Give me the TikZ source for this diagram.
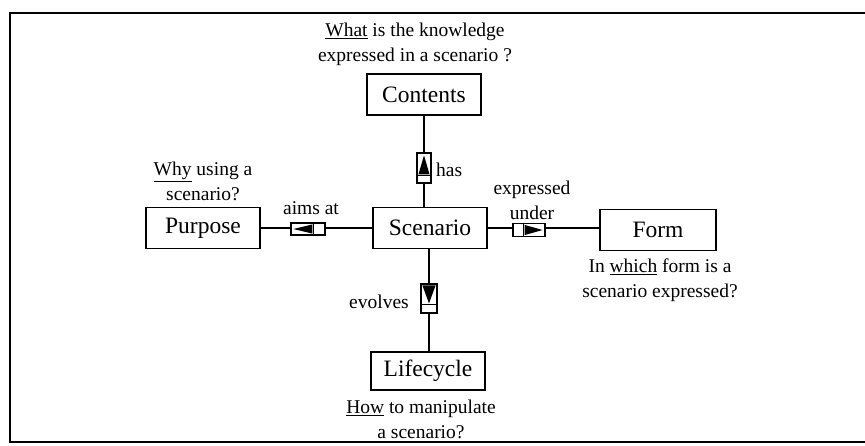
\documentclass[tikz,border=0pt]{standalone}
\usepackage{fontspec}
\setmainfont{Liberation Serif}
\usetikzlibrary{calc}
\begin{document}
\begin{tikzpicture}[x=1pt,y=-1pt,
  concept/.style={draw,line width=1.6pt,minimum width=114pt,minimum height=41pt,
    inner sep=0pt,font=\fontsize{23.5}{26}\selectfont},
  note/.style={align=center,inner sep=0pt,font=\fontsize{19.5}{25}\selectfont},
  link/.style={line width=1.6pt},
  marker/.style={draw,line width=1.2pt,fill=white,inner sep=0pt},
  wedge/.style={fill=black},
  divider/.style={line width=1pt}]
\useasboundingbox (0,0) rectangle (865,445);

% frame
\draw[line width=1.8pt] (865,13) -- (10,13) -- (10,442) -- (865,442);

% concept boxes
\node[concept] (contents) at (424,94.5) {Contents};
\node[concept] (purpose) at (203,228) {Purpose};
\node[concept] (scenario) at (430,228) {Scenario};
\node[concept,minimum width=116pt] (form) at (658,230) {Form};
\node[concept,minimum height=38pt] (lifecycle) at (428,371) {Lifecycle};

% links
\draw[link] (contents.south) -- (contents.south |- scenario.north);
\draw[link] (purpose.east) -- (scenario.west);
\draw[link] (scenario.east) -- (scenario.east -| form.west);
\draw[link] ([xshift=-1pt]scenario.south) -- ([xshift=-1pt]scenario.south |- lifecycle.north);

% direction markers
\node[marker,minimum width=14pt,minimum height=30pt] (mh) at (424,168) {};
\fill[wedge] ($(mh.north)+(0,3)$) -- ($(mh.north west)+(2,22)$) -- ($(mh.north east)+(-2,22)$) -- cycle;
\draw[divider] ($(mh.north west)+(0,23)$) -- ($(mh.north east)+(0,23)$);

\node[marker,minimum width=16pt,minimum height=29pt] (me) at (429,298.5) {};
\fill[wedge] ($(me.north west)+(2,2)$) -- ($(me.north east)+(-2,2)$) -- ($(me.north)+(0,20)$) -- cycle;
\draw[divider] ($(me.north west)+(0,21)$) -- ($(me.north east)+(0,21)$);

\node[marker,minimum width=34pt,minimum height=12pt] (ma) at (308,229) {};
\fill[wedge] ($(ma.west)+(3,0)$) -- ($(ma.north west)+(22,2)$) -- ($(ma.south west)+(22,-2)$) -- cycle;
\draw[divider] ($(ma.north west)+(23,0)$) -- ($(ma.south west)+(23,0)$);

\node[marker,minimum width=32pt,minimum height=13pt] (mx) at (529,230) {};
\fill[wedge] ($(mx.east)+(-3,0)$) -- ($(mx.north east)+(-21,2)$) -- ($(mx.south east)+(-21,-2)$) -- cycle;
\draw[divider] ($(mx.north east)+(-22,0)$) -- ($(mx.south east)+(-22,0)$);

% link labels
\node[note,anchor=west] (lhas) at (436,170) {has};
\node[note] (laims) at (311,208) {aims at};
\node[note] (lexpr) at (532,200.5) {expressed\\under};
\node[note] (levolves) at (379,302) {evolves};

% questions
\node[note] (qcontents) at (415,44.5) {\underline{What} is the knowledge\\expressed in a scenario ?};
\node[note] (qpurpose) at (203,181.5) {\underline{Why} using a\\scenario?};
\node[note] (qform) at (660,280.5) {In \underline{which} form is a\\scenario expressed?};
\node[note] (qlife) at (421,419) {\underline{How} to manipulate\\a scenario?};
\end{tikzpicture}
\end{document}
